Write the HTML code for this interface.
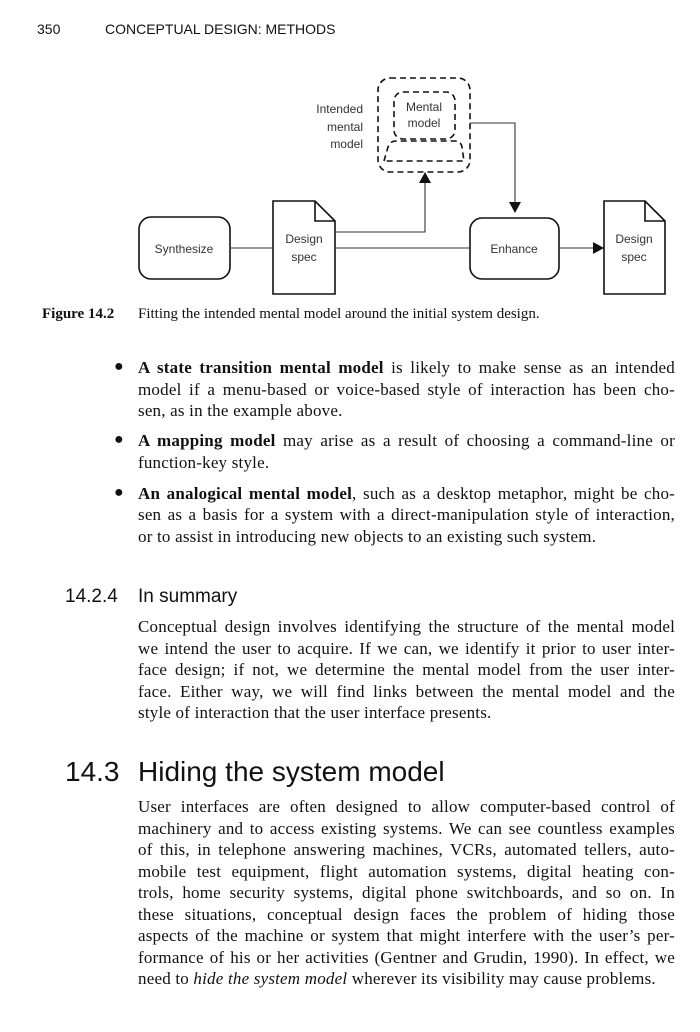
<!DOCTYPE html>
<html><head><meta charset="utf-8"><style>
html,body{margin:0;padding:0;background:#fff;}
body{width:700px;height:1032px;position:relative;overflow:hidden;color:#111;}
.s{font-family:"Liberation Sans",sans-serif;position:absolute;white-space:nowrap;}
.l{position:absolute;left:138px;width:537px;font-family:"Liberation Serif",serif;font-size:17px;letter-spacing:0.2px;line-height:20px;text-align:justify;text-align-last:justify;}
.e{text-align-last:left;}
.b{position:absolute;left:114px;font-size:16px;font-family:"Liberation Serif",serif;}
</style></head><body>
<div class="s" style="left:37px;top:21px;font-size:14px;">350</div>
<div class="s" style="left:105px;top:21px;font-size:14px;">CONCEPTUAL DESIGN: METHODS</div>

<svg style="position:absolute;left:0;top:0" width="700" height="300" viewBox="0 0 700 300">
<g fill="none" stroke="#111" stroke-width="1.6">
<rect x="378" y="78" width="92" height="94" rx="12" stroke-dasharray="6,4"/>
<rect x="394" y="92" width="61" height="47" rx="9" stroke-dasharray="6,4"/>
<path d="M384 161 L388 147 Q390 141 396 141 L455 141 Q461 141 462 147 L464 161 Z" stroke-dasharray="6,4"/>
<rect x="139" y="217" width="91" height="62" rx="12"/>
<rect x="470" y="218" width="89" height="61" rx="12"/>
<path d="M273 201 L315 201 L335 221 L335 294 L273 294 Z M315 201 L315 221 L335 221"/>
<path d="M604 201 L645 201 L665 221 L665 294 L604 294 Z M645 201 L645 221 L665 221"/>
</g>
<g fill="none" stroke="#333" stroke-width="1.1">
<line x1="230" y1="248" x2="273" y2="248"/>
<line x1="335" y1="248" x2="470" y2="248"/>
<polyline points="335,232 425,232 425,180"/>
<polyline points="470,123 515,123 515,206"/>
<line x1="559" y1="248" x2="597" y2="248"/>
</g>
<g fill="#111">
<polygon points="425,172 419,183 431,183"/>
<polygon points="515,213 509,202 521,202"/>
<polygon points="604,248 593,242 593,254"/>
</g>
<g font-family="Liberation Sans,sans-serif" font-size="12" fill="#333">
<text x="363" y="113" text-anchor="end">Intended</text>
<text x="363" y="131" text-anchor="end">mental</text>
<text x="363" y="148" text-anchor="end">model</text>
<text x="424" y="111" text-anchor="middle">Mental</text>
<text x="424" y="127" text-anchor="middle">model</text>
<text x="184" y="253" text-anchor="middle">Synthesize</text>
<text x="514" y="253" text-anchor="middle">Enhance</text>
<text x="304" y="243" text-anchor="middle">Design</text>
<text x="304" y="261" text-anchor="middle">spec</text>
<text x="634" y="243" text-anchor="middle">Design</text>
<text x="634" y="261" text-anchor="middle">spec</text>
</g>
</svg>

<div class="s" style="left:42px;top:306px;font-size:15px;font-family:'Liberation Serif',serif;font-weight:bold;">Figure 14.2</div>
<div class="s" style="left:138px;top:306px;font-size:15px;font-family:'Liberation Serif',serif;">Fitting the intended mental model around the initial system design.</div>

<div class="b" style="top:358px">●</div>
<div class="l" style="top:358px"><b>A state transition mental model</b> is likely to make sense as an intended</div>
<div class="l" style="top:380px">model if a menu-based or voice-based style of interaction has been cho-</div>
<div class="l e" style="top:401px">sen, as in the example above.</div>
<div class="b" style="top:431px">●</div>
<div class="l" style="top:431px"><b>A mapping model</b> may arise as a result of choosing a command-line or</div>
<div class="l e" style="top:453px">function-key style.</div>
<div class="b" style="top:484px">●</div>
<div class="l" style="top:484px"><b>An analogical mental model</b>, such as a desktop metaphor, might be cho-</div>
<div class="l" style="top:505px">sen as a basis for a system with a direct-manipulation style of interaction,</div>
<div class="l e" style="top:527px">or to assist in introducing new objects to an existing such system.</div>

<div class="s" style="left:65px;top:586px;font-size:19px;">14.2.4</div>
<div class="s" style="left:138px;top:586px;font-size:19px;">In summary</div>
<div class="l" style="top:617px">Conceptual design involves identifying the structure of the mental model</div>
<div class="l" style="top:639px">we intend the user to acquire. If we can, we identify it prior to user inter-</div>
<div class="l" style="top:660px">face design; if not, we determine the mental model from the user inter-</div>
<div class="l" style="top:682px">face. Either way, we will find links between the mental model and the</div>
<div class="l e" style="top:703px">style of interaction that the user interface presents.</div>

<div class="s" style="left:65px;top:756px;font-size:28px;">14.3</div>
<div class="s" style="left:138px;top:756px;font-size:28px;">Hiding the system model</div>
<div class="l" style="top:797px">User interfaces are often designed to allow computer-based control of</div>
<div class="l" style="top:819px">machinery and to access existing systems. We can see countless examples</div>
<div class="l" style="top:840px">of this, in telephone answering machines, VCRs, automated tellers, auto-</div>
<div class="l" style="top:862px">mobile test equipment, flight automation systems, digital heating con-</div>
<div class="l" style="top:883px">trols, home security systems, digital phone switchboards, and so on. In</div>
<div class="l" style="top:905px">these situations, conceptual design faces the problem of hiding those</div>
<div class="l" style="top:926px">aspects of the machine or system that might interfere with the user’s per-</div>
<div class="l" style="top:948px">formance of his or her activities (Gentner and Grudin, 1990). In effect, we</div>
<div class="l e" style="top:969px">need to <i>hide the system model</i> wherever its visibility may cause problems.</div>
</body></html>
